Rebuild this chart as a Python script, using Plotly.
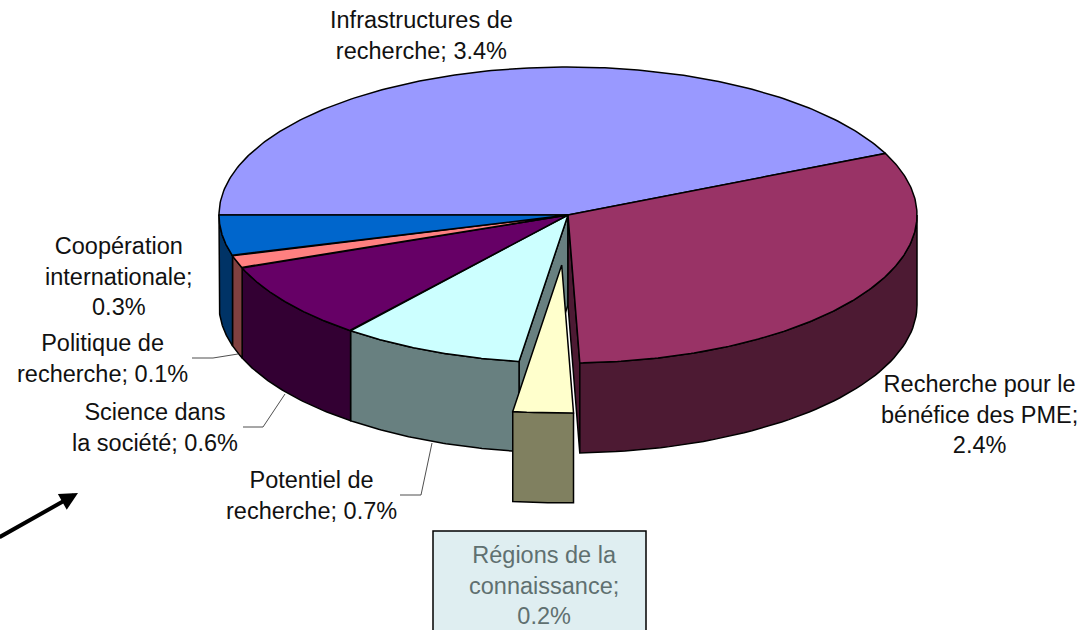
import numpy as np
import plotly.graph_objects as go

# Data
categories = ["Infrastructures de recherche", "Recherche pour le bénéfice des PME",
              "Régions de la connaissance", "Potentiel de recherche",
              "Science dans la société", "Politique de recherche",
              "Coopération internationale"]
values = [3.325, 2.41, 0.214, 0.652, 0.652, 0.107, 0.342]
top_colors = ["#9999FF", "#993366", "#FFFFCC", "#CCFFFF", "#660066", "#FF8080", "#0066CC"]
wall_colors = ["#4D4D80", "#4D1A33", "#808060", "#688080", "#330033", "#804040", "#003366"]
label_texts = ["Infrastructures de<br>recherche; 3.4%",
               "Recherche pour le<br>bénéfice des PME;<br>2.4%",
               "Régions de la<br>connaissance;<br>0.2%",
               "Potentiel de<br>recherche; 0.7%",
               "Science dans<br>la société; 0.6%",
               "Politique de<br>recherche; 0.1%",
               "Coopération<br>internationale;<br>0.3%"]
label_pos = [(421, 35), (979, 414), (544, 585), (311, 495), (155, 427), (102, 358), (119, 276)]
leaders = {"Potentiel": ([400, 421, 432], [495, 495, 443]),
           "Science": ([243, 263, 285], [427, 427, 394]),
           "Politique": ([192, 213, 238], [358, 358, 354])}

cx, cy, rx, ry, depth = 568, 215, 349, 148, 90
explode_index = 2
explode = 0.338
start_deg = 180.0
total = sum(values)

fig = go.Figure()
ang = [start_deg]
for v in values:
    ang.append(ang[-1] - v / total * 360)


def arc(a0, a1, dx=0, dy=0, n=60):
    t = np.radians(np.linspace(a0, a1, n))
    return cx + dx + rx * np.cos(t), cy + dy - ry * np.sin(t)


def poly(x, y, color):
    fig.add_trace(go.Scatter(x=list(x) + [x[0]], y=list(y) + [y[0]], mode="lines", fill="toself",
                             fillcolor=color, line=dict(color="#000000", width=1.5),
                             hoverinfo="skip", showlegend=False))


def wall(a0, a1, color, dx=0, dy=0):
    # only the part of the rim facing the viewer (lower half of the ellipse)
    hi2 = min(max(a0, a1), 0)
    lo2 = max(min(a0, a1), -180)
    if hi2 <= lo2:
        return
    x, y = arc(hi2, lo2, dx, dy)
    poly(np.r_[x, x[::-1]], np.r_[y, y[::-1] + depth], color)


def top(a0, a1, color, dx=0, dy=0):
    x, y = arc(a0, a1, dx, dy, 200)
    poly(np.r_[cx + dx, x], np.r_[cy + dy, y], color)


def radial(a, color):
    x, y = arc(a, a, n=1)
    poly([cx, x[0], x[0], cx], [cy, y[0], y[0] + depth, cy + depth], color)


# radial faces exposed by the exploded slice
radial(ang[explode_index + 1], wall_colors[explode_index + 1])
radial(ang[explode_index], wall_colors[explode_index - 1])
# rim walls
for i in range(len(values)):
    if i != explode_index:
        wall(ang[i], ang[i + 1], wall_colors[i])
# top faces
for i in range(len(values)):
    if i != explode_index:
        top(ang[i], ang[i + 1], top_colors[i])
# exploded slice
mid = np.radians((ang[explode_index] + ang[explode_index + 1]) / 2)
ex_dx, ex_dy = explode * rx * np.cos(mid), -explode * ry * np.sin(mid)
wall(ang[explode_index], ang[explode_index + 1], wall_colors[explode_index], ex_dx, ex_dy)
top(ang[explode_index], ang[explode_index + 1], top_colors[explode_index], ex_dx, ex_dy)

for lx, ly in leaders.values():
    fig.add_trace(go.Scatter(x=lx, y=ly, mode="lines", line=dict(color="#222222", width=0.8),
                             hoverinfo="skip", showlegend=False))

annotations = []
for i, (txt, (lx, ly)) in enumerate(zip(label_texts, label_pos)):
    annotations.append(dict(x=lx, y=ly, xref="x", yref="y", text=txt, showarrow=False,
                            xanchor="center", yanchor="middle", align="center",
                            font=dict(family="Liberation Sans, Arial, sans-serif", size=23.5,
                                      color="#5F7070" if i == explode_index else "#111111")))
annotations.append(dict(x=78, y=493, ax=-2, ay=538, xref="x", yref="y", axref="x", ayref="y",
                        text="", showarrow=True, arrowhead=2, arrowsize=0.9, arrowwidth=4,
                        arrowcolor="#000000"))

fig.update_layout(
    width=1081, height=630, autosize=False,
    margin=dict(l=0, r=0, t=0, b=0),
    paper_bgcolor="#FFFFFF", plot_bgcolor="#FFFFFF",
    xaxis=dict(range=[0, 1081], visible=False, fixedrange=True),
    yaxis=dict(range=[630, 0], visible=False, fixedrange=True),
    annotations=annotations,
    shapes=[dict(type="rect", x0=433, x1=646, y0=531, y1=640, xref="x", yref="y",
                 fillcolor="#DFEEF1", line=dict(color="#000000", width=1.5), layer="below")],
)
fig.write_html("out.html", config={"displayModeBar": False},
               post_script="document.body.style.margin='0';document.body.style.overflow='hidden';")
